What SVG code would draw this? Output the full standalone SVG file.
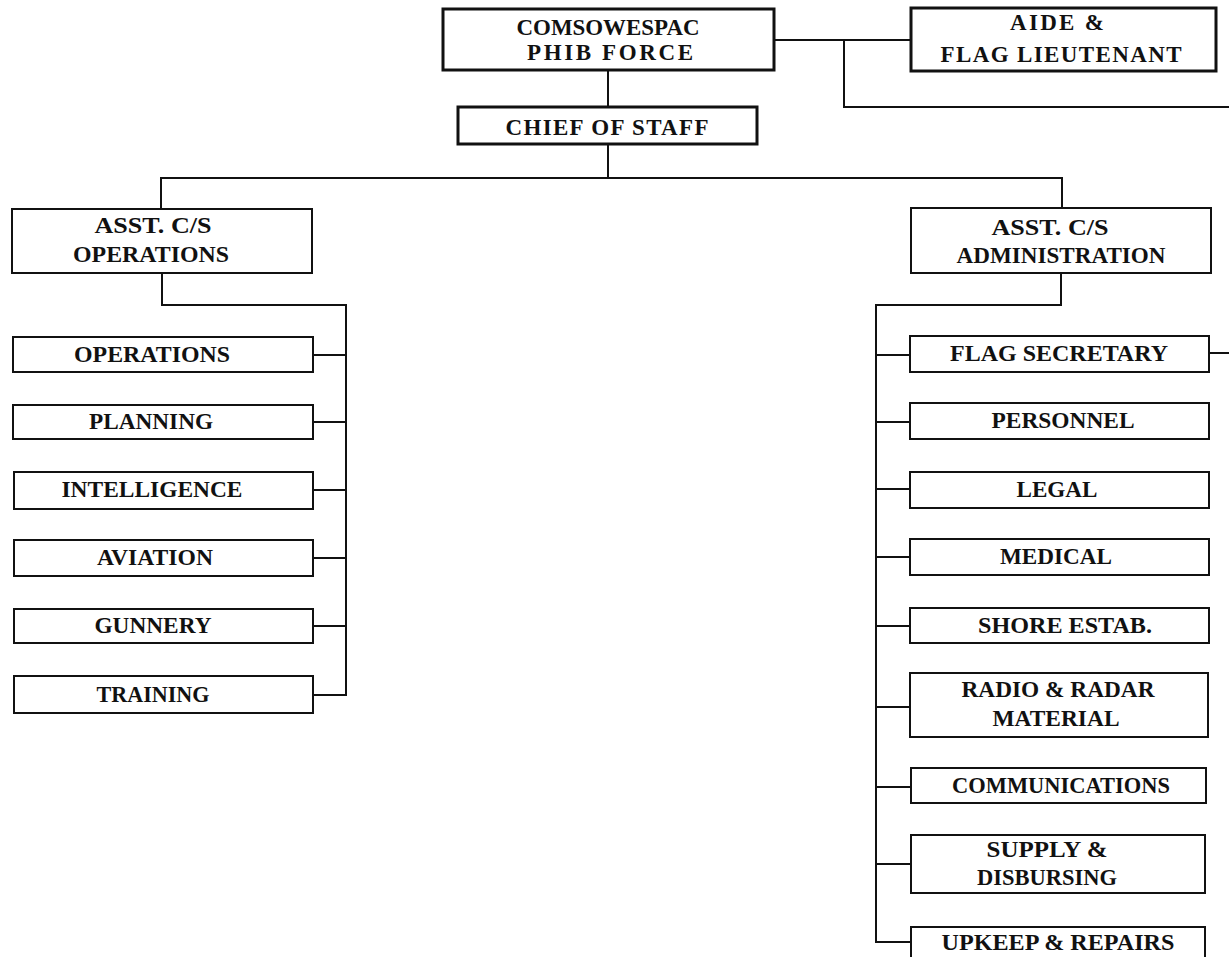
<svg xmlns="http://www.w3.org/2000/svg" width="1229" height="957" viewBox="0 0 1229 957">
<style>
.box{fill:#fff;stroke:#111;stroke-width:2}
.thick{fill:#fff;stroke:#111;stroke-width:3}
.ln{fill:none;stroke:#111;stroke-width:2}
text{font-family:"Liberation Serif","Times New Roman",serif;font-weight:bold;font-size:23px;fill:#111;text-anchor:middle}
</style>
<rect width="1229" height="957" fill="#fff"/>
<g id="connectors">
<path class="ln" d="M774,40 H911"/>
<path class="ln" d="M844,40 V107 H1229"/>
<path class="ln" d="M608,70 V107"/>
<path class="ln" d="M608,144 V178"/>
<path class="ln" d="M161,209 V178 H1062 V208"/>
<path class="ln" d="M162,273 V305 H346 V696"/>
<path class="ln" d="M313,355 H346 M313,422 H346 M313,490 H346 M313,558 H346 M313,626 H346 M313,695 H346"/>
<path class="ln" d="M1061,273 V305 H876 V942 H911"/>
<path class="ln" d="M876,355 H910 M876,422 H910 M876,489 H910 M876,557 H910 M876,626 H910 M876,707 H910 M876,787 H911 M876,864 H911"/>
<path class="ln" d="M1209,353 H1229"/>
</g>
<g id="comsowespac">
<rect class="thick" x="443" y="9" width="331" height="61"/>
<text x="608" y="35" textLength="183" lengthAdjust="spacingAndGlyphs">COMSOWESPAC</text>
<text x="610" y="60" textLength="166" lengthAdjust="spacing">PHIB FORCE</text>
</g>
<g id="aide">
<rect class="thick" x="911" y="8" width="305" height="63"/>
<text x="1057" y="30" textLength="94" lengthAdjust="spacing">AIDE &amp;</text>
<text x="1061" y="62" textLength="241" lengthAdjust="spacing">FLAG LIEUTENANT</text>
</g>
<g id="chief">
<rect class="thick" x="458" y="107" width="299" height="37"/>
<text x="607" y="135" textLength="203" lengthAdjust="spacing">CHIEF OF STAFF</text>
</g>
<g id="asst-ops">
<rect class="box" x="12" y="209" width="300" height="64"/>
<text x="153" y="233" textLength="117" lengthAdjust="spacingAndGlyphs">ASST. C/S</text>
<text x="151" y="262" textLength="156" lengthAdjust="spacingAndGlyphs">OPERATIONS</text>
</g>
<g id="asst-admin">
<rect class="box" x="911" y="208" width="300" height="65"/>
<text x="1050" y="235" textLength="117" lengthAdjust="spacingAndGlyphs">ASST. C/S</text>
<text x="1061" y="263" textLength="209" lengthAdjust="spacingAndGlyphs">ADMINISTRATION</text>
</g>
<g id="operations"><rect class="box" x="13" y="337" width="300" height="35"/><text x="152" y="362" textLength="156" lengthAdjust="spacingAndGlyphs">OPERATIONS</text></g>
<g id="planning"><rect class="box" x="13" y="405" width="300" height="34"/><text x="151" y="429" textLength="124" lengthAdjust="spacingAndGlyphs">PLANNING</text></g>
<g id="intelligence"><rect class="box" x="14" y="472" width="299" height="37"/><text x="152" y="497" textLength="181" lengthAdjust="spacingAndGlyphs">INTELLIGENCE</text></g>
<g id="aviation"><rect class="box" x="14" y="540" width="299" height="36"/><text x="155" y="565" textLength="116" lengthAdjust="spacingAndGlyphs">AVIATION</text></g>
<g id="gunnery"><rect class="box" x="14" y="609" width="299" height="34"/><text x="153" y="633" textLength="117" lengthAdjust="spacingAndGlyphs">GUNNERY</text></g>
<g id="training"><rect class="box" x="14" y="676" width="299" height="37"/><text x="153" y="702" textLength="113" lengthAdjust="spacingAndGlyphs">TRAINING</text></g>
<g id="flag-secretary"><rect class="box" x="910" y="336" width="299" height="36"/><text x="1059" y="361" textLength="218" lengthAdjust="spacingAndGlyphs">FLAG SECRETARY</text></g>
<g id="personnel"><rect class="box" x="910" y="403" width="299" height="36"/><text x="1063" y="428" textLength="143" lengthAdjust="spacingAndGlyphs">PERSONNEL</text></g>
<g id="legal"><rect class="box" x="910" y="472" width="299" height="36"/><text x="1057" y="497" textLength="81" lengthAdjust="spacingAndGlyphs">LEGAL</text></g>
<g id="medical"><rect class="box" x="910" y="539" width="299" height="36"/><text x="1056" y="564" textLength="112" lengthAdjust="spacingAndGlyphs">MEDICAL</text></g>
<g id="shore-estab"><rect class="box" x="910" y="608" width="299" height="35"/><text x="1065" y="633" textLength="174" lengthAdjust="spacingAndGlyphs">SHORE ESTAB.</text></g>
<g id="radio-radar"><rect class="box" x="910" y="673" width="298" height="64"/><text x="1058" y="697" textLength="193" lengthAdjust="spacingAndGlyphs">RADIO &amp; RADAR</text><text x="1056" y="726" textLength="127" lengthAdjust="spacingAndGlyphs">MATERIAL</text></g>
<g id="communications"><rect class="box" x="911" y="768" width="295" height="35"/><text x="1061" y="793" textLength="218" lengthAdjust="spacingAndGlyphs">COMMUNICATIONS</text></g>
<g id="supply"><rect class="box" x="911" y="835" width="294" height="58"/><text x="1047" y="857" textLength="121" lengthAdjust="spacingAndGlyphs">SUPPLY &amp;</text><text x="1047" y="885" textLength="140" lengthAdjust="spacingAndGlyphs">DISBURSING</text></g>
<g id="upkeep"><rect class="box" x="911" y="927" width="294" height="35"/><text x="1058" y="950" textLength="233" lengthAdjust="spacingAndGlyphs">UPKEEP &amp; REPAIRS</text></g>
</svg>
